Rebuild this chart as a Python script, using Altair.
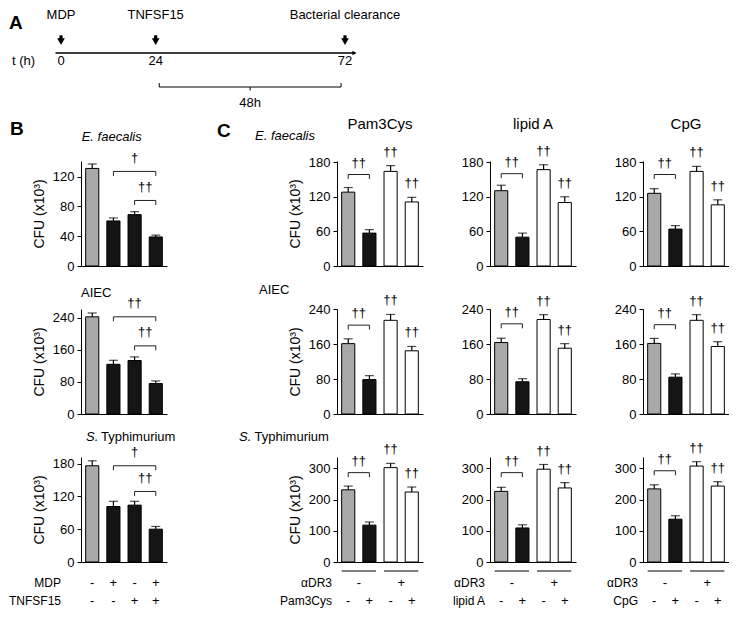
import altair as alt
import pandas as pd

FONT = "Liberation Sans"
GRAY = "#a9a9a9"
DARK = "#151515"

# ---------------- data ----------------
# Panel A (timeline, hours)
a_event_h = [0, 24, 72]
a_event_txt = ["MDP", "TNFSF15", "Bacterial clearance"]
a_tick_txt = ["0", "24", "72"]
a_axis_h = [-1.4, 74.4]
a_span_h = [24.9, 71.0]
a_span_txt = "48h"

# Panel B
b_groups = ["Ctrl", "MDP", "TNFSF15", "MDP+TNFSF15"]
b_kinds = ["gray", "black", "black", "black"]
b_row_mdp = ["-", "+", "-", "+"]
b_row_tnf = ["-", "-", "+", "+"]
b_ef_mean = [131, 60.5, 69, 39]
b_ef_err = [6, 4, 4, 2.5]
b_aiec_mean = [242.5, 124, 133.5, 76]
b_aiec_err = [9.5, 10, 9, 6.5]
b_st_mean = [176, 101.5, 104, 60]
b_st_err = [9, 9.5, 7, 5]
b_ymax = [141, 262, 192]
b_yticks = [[0, 40, 80, 120], [0, 80, 160, 240], [0, 60, 120, 180]]
b_big_y = [127, 242.5, 176]
b_big_lab = ["†", "††", "†"]
b_small_y = [88, 170, 129]
b_small_lab = ["††", "††", "††"]

# Panel C
c_groups = ["Ctrl", "TLR", "aDR3", "aDR3+TLR"]
c_kinds = ["gray", "black", "white", "white"]
c_sig = ["", "", "††", "††"]
c_ligands = ["Pam3Cys", "lipid A", "CpG"]
c_pair_sign = ["-", "+"]
c_row_tlr = ["-", "+", "-", "+"]
c_ef_pam_mean = [128, 57, 164, 111]
c_ef_pam_err = [8, 6, 10, 8]
c_ef_lip_mean = [130.5, 50, 167, 110]
c_ef_lip_err = [9.5, 7, 8.5, 10]
c_ef_cpg_mean = [126, 64, 164, 106]
c_ef_cpg_err = [8, 6, 8.7, 8.7]
c_aiec_pam_mean = [161.5, 79, 215, 145]
c_aiec_pam_err = [11, 9, 13.5, 10]
c_aiec_lip_mean = [164, 74, 217, 151]
c_aiec_lip_err = [10, 7, 11, 10.5]
c_aiec_cpg_mean = [162, 84.5, 215, 155]
c_aiec_cpg_err = [11.5, 7.5, 13, 11]
c_st_pam_mean = [231, 118, 302, 224]
c_st_pam_err = [12, 10, 13.5, 16]
c_st_lip_mean = [226, 109, 297, 237]
c_st_lip_err = [13, 10, 15, 17]
c_st_cpg_mean = [234, 137, 307, 243]
c_st_cpg_err = [13, 11, 14, 14]
c_ymax = [182, 241, 336]
c_yticks = [[0, 60, 120, 180], [0, 80, 160, 240], [0, 100, 200, 300]]
c_br_y = [[158.6, 160, 158.6], [204, 207, 205], [286, 286, 292]]

YTITLE = "CFU (x10³)"

# ---------------- layout constants ----------------
W = 86
H = 105
PI = 0.38
PO = 0.22
STEP = W / (4 - PI + 2 * PO)


def label(text, x, y, size=13, align="left", weight="normal", style="normal"):
    return alt.Chart(pd.DataFrame({"t": [text]})).mark_text(
        align=align, baseline="alphabetic", fontSize=size, fontWeight=weight,
        fontStyle=style, color="black"
    ).encode(x=alt.value(x), y=alt.value(y), text="t:N")


def panel(groups, kinds, mean, err, ymax, yticks, ytitle, brackets, sig=None):
    xsc = alt.Scale(domain=groups, paddingInner=PI, paddingOuter=PO)
    ysc = alt.Scale(domain=[0, ymax], nice=False)
    xax = alt.Axis(labels=False, ticks=False, title=None)
    yax = alt.Axis(values=yticks, title=ytitle)

    def XF(f, **kw):
        return alt.X(f + ":N", scale=xsc, axis=xax, **kw)

    def YF(f):
        return alt.Y(f + ":Q", scale=ysc, axis=yax)

    d = {"group": groups, "kind": kinds, "mean": mean, "err": err}
    if sig is not None:
        d["sig"] = sig
    base = alt.Chart(pd.DataFrame(d))
    bars = base.mark_bar(stroke="black", strokeWidth=1).encode(
        x=XF("group"), y=YF("mean"),
        fill=alt.Fill("kind:N", scale=alt.Scale(domain=["gray", "black", "white"],
                                                range=[GRAY, DARK, "white"]), legend=None),
    )
    hi = base.transform_calculate(hi="datum.mean + datum.err")
    stems = hi.mark_rule(color="black", strokeWidth=1.2).encode(
        x=XF("group"), y=YF("mean"), y2="hi:Q")
    caps = hi.mark_tick(color="black", thickness=1.2, size=9, orient="horizontal").encode(
        x=XF("group"), y=YF("hi"))
    layers = [bars, stems, caps]
    for (a, b, yv, lab, dy) in brackets:
        ia, ib = groups.index(a), groups.index(b)
        bd = alt.Chart(pd.DataFrame({"a": [a], "b": [b], "y": [yv], "lab": [lab]}))
        layers.append(bd.mark_rule(color="#222222", strokeWidth=1).encode(
            x=XF("a", bandPosition=0.5), x2=alt.X2("b", bandPosition=0.5), y=YF("y")))
        layers.append(bd.transform_fold(["a", "b"], as_=["end", "g"]).mark_rule(
            color="#222222", strokeWidth=1, y2Offset=4.5).encode(
            x=XF("g", bandPosition=0.5), y=YF("y"), y2=alt.Y2("y")))
        layers.append(bd.mark_text(baseline="alphabetic", fontSize=13,
                                   dx=STEP * (ib - ia) / 2, dy=-dy).encode(
            x=XF("a", bandPosition=0.5), y=YF("y"), text="lab:N"))
    if sig is not None:
        layers.append(hi.transform_filter("datum.sig != ''").mark_text(
            baseline="alphabetic", fontSize=13, dy=-10).encode(
            x=XF("group"), y=YF("hi"), text="sig:N"))
    return layers, XF


# ---------------- Panel A ----------------
axs = alt.Scale(domain=[0, 72], range=[-20, 264])
AX = alt.X("h:Q", scale=axs, axis=None)
ev = alt.Chart(pd.DataFrame({"h": a_event_h, "txt": a_event_txt, "tick": a_tick_txt}))
tl = alt.Chart(pd.DataFrame({"h": [a_axis_h[0]], "h2": [a_axis_h[1]]}))
sp = alt.Chart(pd.DataFrame({"h": [a_span_h[0]], "h2": [a_span_h[1]], "t": [a_span_txt]}))
sp_ends = alt.Chart(pd.DataFrame({"h": a_span_h}))

a_layers = [
    tl.mark_rule(color="black", strokeWidth=1.3).encode(x=AX, x2="h2:Q", y=alt.value(36)),
    alt.Chart(pd.DataFrame({"h": [a_axis_h[1]]})).mark_point(
        shape="triangle-right", filled=True, color="black", size=22, opacity=1).encode(
        x=AX, y=alt.value(36)),
    ev.mark_rule(color="black", strokeWidth=3.2).encode(x=AX, y=alt.value(18.3), y2=alt.value(23)),
    ev.mark_point(shape="triangle-down", filled=True, color="black", size=60, opacity=1).encode(
        x=AX, y=alt.value(24.6)),
    ev.mark_text(baseline="alphabetic", fontSize=13, color="black").encode(
        x=AX, y=alt.value(1.7), text="txt:N"),
    ev.mark_text(baseline="alphabetic", fontSize=13, color="black").encode(
        x=AX, y=alt.value(48.3), text="tick:N"),
    sp.mark_rule(color="black", strokeWidth=1).encode(x=AX, x2="h2:Q", y=alt.value(70)),
    sp_ends.mark_rule(color="black", strokeWidth=1).encode(x=AX, y=alt.value(66), y2=alt.value(70)),
    sp.transform_calculate(m="(datum.h + datum.h2) / 2").mark_rule(
        color="black", strokeWidth=1).encode(
        x=alt.X("m:Q", scale=axs, axis=None), y=alt.value(70), y2=alt.value(73.5)),
    sp.transform_calculate(m="(datum.h + datum.h2) / 2").mark_text(
        baseline="alphabetic", fontSize=13, color="black").encode(
        x=alt.X("m:Q", scale=axs, axis=None), y=alt.value(90), text="t:N"),
    label("A", -72, 11.7, size=19, weight="bold"),
    label("t (h)", -69, 48.3),
]
a_chart = alt.layer(*a_layers).properties(width=264, height=80)

# ---------------- Panel B ----------------
b_means = [b_ef_mean, b_aiec_mean, b_st_mean]
b_errs = [b_ef_err, b_aiec_err, b_st_err]
b_cells = []
for r in range(3):
    layers, XF = panel(
        b_groups, b_kinds, b_means[r], b_errs[r], b_ymax[r], b_yticks[r], YTITLE,
        [("MDP", "MDP+TNFSF15", b_big_y[r], b_big_lab[r], 9.5),
         ("TNFSF15", "MDP+TNFSF15", b_small_y[r], b_small_lab[r], 9.5)])
    if r == 0:
        layers += [label("B", -71, -25.8, size=19, weight="bold"),
                   label("E. faecalis", 0.7, -20, style="italic")]
    elif r == 1:
        layers += [label("AIEC", 0, -12)]
    else:
        layers += [label("S.", 5, -16, style="italic"), label("Typhimurium", 20, -16)]
        rows = alt.Chart(pd.DataFrame({"group": b_groups, "r1": b_row_mdp, "r2": b_row_tnf}))
        layers += [
            rows.mark_text(baseline="alphabetic", fontSize=13).encode(
                x=XF("group"), y=alt.value(H + 25.4), text="r1:N"),
            rows.mark_text(baseline="alphabetic", fontSize=13).encode(
                x=XF("group"), y=alt.value(H + 43), text="r2:N"),
            label("MDP", -20, H + 25.4, size=12, align="right"),
            label("TNFSF15", -20, H + 43, size=12, align="right"),
        ]
    b_cells.append(alt.layer(*layers).properties(width=W, height=H))

# ---------------- Panel C ----------------
c_means = [[c_ef_pam_mean, c_ef_lip_mean, c_ef_cpg_mean],
           [c_aiec_pam_mean, c_aiec_lip_mean, c_aiec_cpg_mean],
           [c_st_pam_mean, c_st_lip_mean, c_st_cpg_mean]]
c_errs = [[c_ef_pam_err, c_ef_lip_err, c_ef_cpg_err],
          [c_aiec_pam_err, c_aiec_lip_err, c_aiec_cpg_err],
          [c_st_pam_err, c_st_lip_err, c_st_cpg_err]]
c_cells = [[None] * 3 for _ in range(3)]
for r in range(3):
    for c in range(3):
        layers, XF = panel(
            c_groups, c_kinds, c_means[r][c], c_errs[r][c], c_ymax[r], c_yticks[r],
            YTITLE if c == 0 else None,
            [("Ctrl", "TLR", c_br_y[r][c], "††", 8)], sig=c_sig)
        if r == 0:
            layers += [label(c_ligands[c], W / 2, -32, size=15, align="center")]
            if c == 0:
                layers += [label("C", -120, -24, size=19, weight="bold"),
                           label("E. faecalis", -82, -21, style="italic")]
        if r == 1 and c == 0:
            layers += [label("AIEC", -78, -15)]
        if r == 2:
            if c == 0:
                layers += [label("S.", -98, -16, style="italic"), label("Typhimurium", -82.5, -16)]
            pairs = alt.Chart(pd.DataFrame({"a": [c_groups[0], c_groups[2]],
                                            "b": [c_groups[1], c_groups[3]],
                                            "s": c_pair_sign}))
            rows = alt.Chart(pd.DataFrame({"group": c_groups, "r2": c_row_tlr}))
            layers += [
                pairs.mark_rule(color="black", strokeWidth=1).encode(
                    x=XF("a", bandPosition=0), x2=alt.X2("b", bandPosition=1),
                    y=alt.value(H + 9)),
                pairs.mark_text(baseline="alphabetic", fontSize=13, dx=STEP / 2).encode(
                    x=XF("a", bandPosition=0.5), y=alt.value(H + 25), text="s:N"),
                rows.mark_text(baseline="alphabetic", fontSize=13).encode(
                    x=XF("group"), y=alt.value(H + 43.3), text="r2:N"),
                label("αDR3", -5, H + 25, size=12, align="right"),
                label(c_ligands[c], -5, H + 43.3, size=12, align="right"),
            ]
        c_cells[r][c] = alt.layer(*layers).properties(width=W, height=H)


def spacer():
    return alt.Chart(pd.DataFrame({"t": [""]})).mark_text().encode(
        x=alt.value(0), y=alt.value(0), text="t:N").properties(width=36, height=H)


cells = []
for r in range(3):
    cells += [b_cells[r], spacer(), c_cells[r][0], c_cells[r][1], c_cells[r][2]]

grid = alt.concat(*cells, columns=5, spacing={"row": 43, "column": 67},
                  bounds="flush", align="each")

chart = alt.vconcat(a_chart, grid, spacing=7).properties(padding=0).configure(
    font=FONT
).configure_view(stroke=None).configure_axis(
    grid=False, domainColor="black", domainWidth=1, tickColor="black", tickWidth=1,
    tickSize=4, labelColor="black", labelFontSize=13, labelPadding=3, labelFont=FONT,
    titleColor="black", titleFontSize=14, titleFontWeight="normal", titlePadding=6,
    titleFont=FONT
).configure_text(font=FONT, color="black")

chart.save("out.html", embed_options={"renderer": "svg", "actions": False})
